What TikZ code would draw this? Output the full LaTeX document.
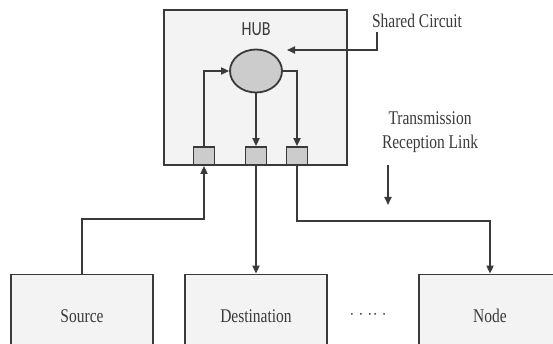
\documentclass[tikz,border=0pt]{standalone}
\usepackage{graphicx}
\usepackage{fontspec}
\setmainfont{Liberation Serif}
\newfontfamily\hubfont{Carlito}
\usetikzlibrary{arrows.meta,positioning,shapes.geometric,calc}
\definecolor{hline}{RGB}{58,58,58}
\definecolor{hfill}{RGB}{243,243,243}
\definecolor{hport}{RGB}{204,204,204}
\newcommand{\tallt}[1]{\scalebox{1}[1.25]{#1}}

\begin{document}
\begin{tikzpicture}[x=1pt,y=-1pt,font=\fontsize{15.5}{19}\selectfont,
  color=hline,line width=1.8pt,
  >={Triangle[length=8pt,width=7pt]},
  box/.style={draw,fill=hfill,minimum width=142pt,minimum height=83pt},
  port/.style={draw,fill=hport,minimum width=21pt,minimum height=18pt,inner sep=0pt}]
\useasboundingbox (0,0) rectangle (553,344);
% hub with its shared circuit
\node[draw,fill=hfill,minimum width=183pt,minimum height=155pt] (hub) at (255.5,87.5) {};
\node[font=\hubfont\fontsize{16}{18}\selectfont] (hublab) at (256,29) {\tallt{HUB}};
\node[ellipse,draw,fill=hport,minimum width=52pt,minimum height=43pt,inner sep=0pt] (circ) at (256,71) {};
\foreach \n/\x in {p1/204,p2/256,p3/297}
  \node[port] (\n) at (\x,156) {};
\draw[->] (p1.north) |- (circ.west);
\draw[->] (circ.south) -- (p2.north);
\draw[->] (circ.east) -| (p3.north);
% labels on the right
\node (shared) at (417,21) {\tallt{Shared Circuit}};
\coordinate (sharedstart) at (377,32);
\coordinate (sharedend) at (287,50);
\draw[->] (sharedstart) |- (sharedend);
\node (trans) at (430,132) {\tallt{\begin{tabular}{@{}c@{}}Transmission\\Reception Link\end{tabular}}};
\coordinate (transtop) at (388,165);
\coordinate (transend) at (388,205);
\draw[->] (transtop) -- (transend);
% stations
\foreach \n/\x/\t in {src/82/Source,dst/256/Destination,nd/490/Node}
  \node[box] (\n) at (\x,316) {\tallt{\t}};
\node (dots) at (368,316) {· · ·· ·};
\draw[->] (src.north) -- ++(0,-54.5) -| (p1.south);
\draw[->] (p2.south) -- (dst.north);
\draw[->] (p3.south) -- ++(0,55) -| (nd.north);
\end{tikzpicture}
\end{document}
